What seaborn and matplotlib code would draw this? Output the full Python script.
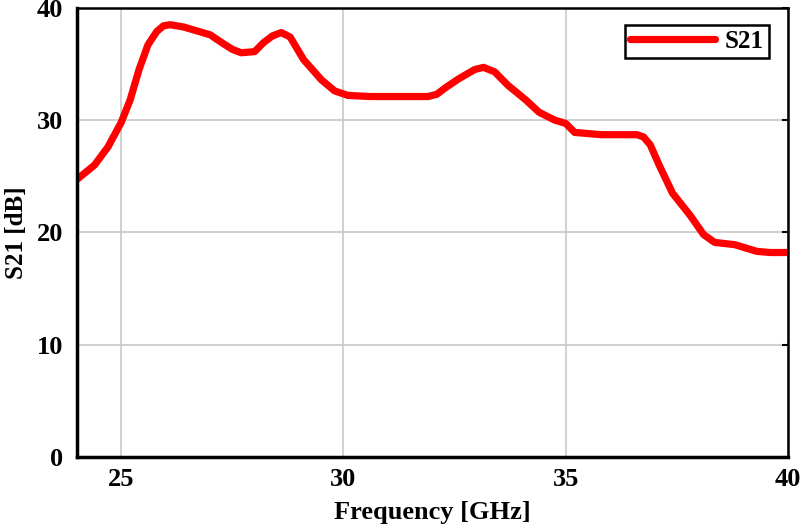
#S21 vs frequency plot

import numpy as np
import matplotlib
matplotlib.use('Agg')
import matplotlib.pyplot as plt
import pandas as pd
import seaborn as sns

#Data
freq = [24.0, 24.4, 24.7, 25.0, 25.2, 25.4, 25.6, 25.8, 25.95, 26.1, 26.4, 27.0,
        27.3, 27.5, 27.7, 28.0, 28.2, 28.4, 28.6, 28.8, 29.1, 29.5, 29.8, 30.1,
        30.6, 31.3, 31.9, 32.1, 32.3, 32.6, 32.95, 33.15, 33.4, 33.7, 34.1,
        34.4, 34.75, 35.0, 35.2, 35.8, 36.4, 36.6, 36.75, 36.9, 37.1, 37.4,
        37.8, 38.1, 38.35, 38.8, 39.3, 39.6, 40.0]
s21 = [24.7, 26.0, 27.6, 29.8, 31.8, 34.5, 36.7, 37.9, 38.4, 38.5, 38.3, 37.6,
       36.8, 36.3, 36.0, 36.1, 36.9, 37.5, 37.8, 37.4, 35.4, 33.6, 32.6, 32.2,
       32.1, 32.1, 32.1, 32.3, 32.9, 33.7, 34.5, 34.7, 34.3, 33.1, 31.8,
       30.7, 30.0, 29.7, 28.9, 28.7, 28.7, 28.7, 28.5, 27.8, 26.0, 23.5,
       21.5, 19.8, 19.1, 18.9, 18.3, 18.2, 18.2]
x_ticks = [25, 30, 35, 40]
y_ticks = [0, 10, 20, 30, 40]

df = pd.DataFrame({'Frequency [GHz]': freq, 'S21 [dB]': s21})

sns.set_style('white')
plt.rcParams['font.family'] = ['Liberation Serif', 'DejaVu Serif']
plt.rcParams['font.weight'] = 'bold'
plt.rcParams['text.color'] = 'black'
plt.rcParams['axes.labelcolor'] = 'black'

fig = plt.figure(figsize=(8, 5.25), dpi=100)
ax = fig.add_axes([0.096, 0.13, 0.889, 0.855])

sns.lineplot(data=df, x='Frequency [GHz]', y='S21 [dB]', color='#ff0000',
             linewidth=5.2, label='S21', ax=ax, solid_joinstyle='round',
             solid_capstyle='round')

ax.set_xlim(24, 40)
ax.set_ylim(0, 40)
ax.set_xticks(x_ticks)
ax.set_yticks(y_ticks)
ax.grid(True, color='#c8c8c8', linewidth=1.2)
ax.tick_params(direction='in', length=4, width=1.5, labelsize=19,
               colors='black', top=False, right=True)
ax.tick_params(axis='x', pad=8)
ax.tick_params(axis='y', pad=10)
for lbl in ax.get_xticklabels() + ax.get_yticklabels():
    lbl.set_fontweight('bold')
for side in ['left', 'bottom']:
    ax.spines[side].set_linewidth(2.5)
for side in ['top', 'right']:
    ax.spines[side].set_linewidth(1.8)
for s in ax.spines.values():
    s.set_color('black')

ax.set_xlabel('Frequency [GHz]', fontsize=19, fontweight='bold', labelpad=7,
              color='black')
ax.set_ylabel('S21 [dB]', fontsize=18, fontweight='bold', labelpad=6,
              color='black')

leg = ax.legend(loc='upper right', bbox_to_anchor=(0.973, 0.962),
                prop={'weight': 'bold', 'size': 18}, handlelength=3.4,
                handletextpad=0.4, fancybox=False, framealpha=1,
                borderpad=0.2, borderaxespad=0)
leg.get_frame().set_edgecolor('black')
leg.get_frame().set_linewidth(1.8)
for t in leg.get_texts():
    t.set_color('black')

plt.savefig('out.png', dpi=100)
